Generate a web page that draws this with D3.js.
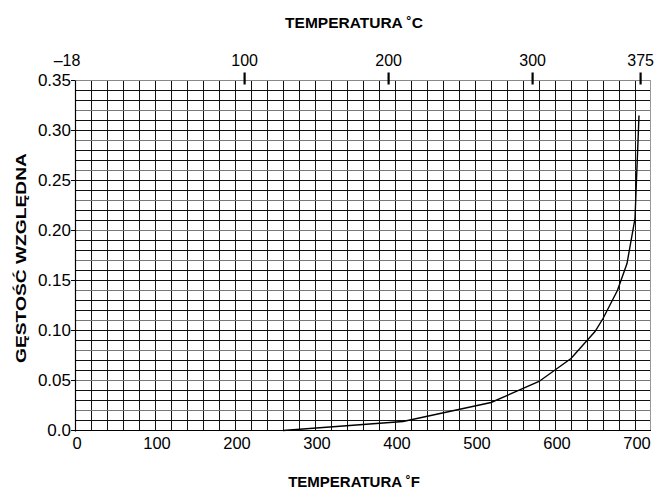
<!DOCTYPE html>
<html>
<head>
<meta charset="utf-8">
<script src="https://cdn.jsdelivr.net/npm/d3@7/dist/d3.min.js"></script>
<style>
  html, body { margin: 0; padding: 0; background: #fff; }
  svg { display: block; }
  text { font-family: "Liberation Sans", Arial, Helvetica, sans-serif; fill: #000; }
</style>
</head>
<body>
<svg id="chart" width="657" height="490"></svg>
<script>
// ---- data ----
const tempF = [260, 410, 520, 580, 620, 650, 660, 678, 690, 700, 705];
const density = [0.000, 0.009, 0.028, 0.049, 0.072, 0.099, 0.112, 0.140, 0.167, 0.212, 0.315];
const fTicks = [0, 100, 200, 300, 400, 500, 600, 700];
const cTicks = [-18, 100, 200, 300, 375];
const yTicks = [0, 0.05, 0.10, 0.15, 0.20, 0.25, 0.30, 0.35];
const yTickLabels = ["0.0", "0.05", "0.10", "0.15", "0.20", "0.25", "0.30", "0.35"];
const xTitle = "TEMPERATURA ˚F";
const x2Title = "TEMPERATURA ˚C";
const yTitle = "GĘSTOŚĆ WZGLĘDNA";

const svg = d3.select("#chart");
const x = d3.scaleLinear().domain([0, 720]).range([75, 651]);
const y = d3.scaleLinear().domain([0, 0.35]).range([430.5, 80.5]);
const c2f = c => c * 9 / 5 + 32;

const g = svg.append("g");
const X0 = x(0), X1 = x(720), Y0 = y(0), Y1 = y(0.35);

// vertical grid every 20 F
const vLines = d3.range(20, 720, 20);
g.selectAll("line.v").data(vLines).join("line")
  .attr("x1", d => Math.round(x(d)) + 0.5).attr("x2", d => Math.round(x(d)) + 0.5)
  .attr("y1", Y1).attr("y2", Y0)
  .attr("stroke", "#111").attr("stroke-width", 1);

// horizontal grid every 0.01
const hLines = d3.range(1, 35).map(i => i / 100);
g.selectAll("line.h").data(hLines).join("line")
  .attr("x1", X0).attr("x2", X1)
  .attr("y1", d => Math.round(y(d) - 0.5) + 0.5).attr("y2", d => Math.round(y(d) - 0.5) + 0.5)
  .attr("stroke", (d, i) => (i % 3 === 1 ? "#777" : "#111")).attr("stroke-width", 1);

// frame
g.append("line").attr("x1", X0).attr("x2", X1).attr("y1", Y1).attr("y2", Y1).attr("stroke", "#888");
g.append("line").attr("x1", X1 - 0.5).attr("x2", X1 - 0.5).attr("y1", Y1).attr("y2", Y0).attr("stroke", "#999");
g.append("line").attr("x1", X0).attr("x2", X1).attr("y1", Y0).attr("y2", Y0).attr("stroke", "#000").attr("stroke-width", 1.2);
g.append("line").attr("x1", X0 + 0.5).attr("x2", X0 + 0.5).attr("y1", Y1).attr("y2", Y0 + 1).attr("stroke", "#000").attr("stroke-width", 1.2);

// left ticks + labels
g.selectAll("line.yt").data(yTicks).join("line")
  .attr("x1", X0 - 4).attr("x2", X0)
  .attr("y1", d => y(d)).attr("y2", d => y(d))
  .attr("stroke", "#000");
g.selectAll("text.yl").data(yTicks).join("text")
  .attr("x", X0 - 4).attr("y", d => y(d) + 5.5)
  .attr("text-anchor", "end").attr("font-size", 17)
  .text((d, i) => yTickLabels[i]);

// bottom labels
g.selectAll("text.xl").data(fTicks).join("text")
  .attr("x", d => x(d) + 2).attr("y", Y0 + 18)
  .attr("text-anchor", "middle").attr("font-size", 16.5)
  .text(d => d);

// top axis (Celsius)
g.selectAll("line.ct").data(cTicks.filter(c => c > 0)).join("line")
  .attr("x1", d => x(c2f(d))).attr("x2", d => x(c2f(d)))
  .attr("y1", Y1 - 8).attr("y2", Y1 + 4)
  .attr("stroke", "#000").attr("stroke-width", 2.2);
g.selectAll("text.cl").data(cTicks).join("text")
  .attr("x", d => x(Math.max(0, c2f(d))) + (d < 0 ? -8 : 0)).attr("y", Y1 - 15)
  .attr("text-anchor", "middle").attr("font-size", 16)
  .text(d => d < 0 ? "–" + Math.abs(d) : d);

// titles
svg.append("text").attr("x", 354).attr("y", 28).attr("text-anchor", "middle")
  .attr("font-size", 15.5).attr("font-weight", "bold").text(x2Title);
svg.append("text").attr("x", 354).attr("y", 487).attr("text-anchor", "middle")
  .attr("font-size", 15).attr("font-weight", "bold").text(xTitle);
svg.append("text").attr("transform", "translate(26,258) rotate(-90)").attr("text-anchor", "middle")
  .attr("font-size", 15.5).attr("font-weight", "bold")
  .attr("textLength", 210).attr("lengthAdjust", "spacingAndGlyphs").text(yTitle);

// curve
const pts = tempF.map((t, i) => [t, density[i]]);
g.append("path").datum(pts)
  .attr("d", d3.line().x(d => x(d[0])).y(d => y(d[1])))
  .attr("fill", "none").attr("stroke", "#000").attr("stroke-width", 1.4);
</script>
</body>
</html>
